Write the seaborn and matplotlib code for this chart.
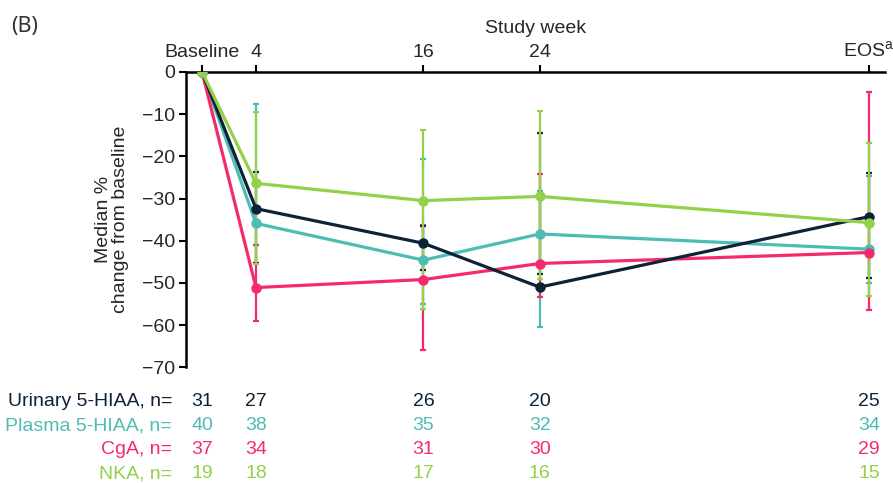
import numpy as np
import pandas as pd
import matplotlib
matplotlib.use("Agg")
import matplotlib.pyplot as plt
import seaborn as sns

# time points and where they sit on the x axis
timepoints = ["Baseline", "4", "16", "24", "EOS$^{\\rm a}$"]
x_pos = [0, 3.8, 15.6, 23.8, 47]

markers_names = ["Urinary 5-HIAA", "Plasma 5-HIAA", "CgA", "NKA"]
colors = ["#0d2236", "#4dbcb5", "#f52a6c", "#93d04b"]

# median % change from baseline
urinary = [0, -32.4, -40.6, -51.0, -34.3]
plasma = [0, -35.9, -44.6, -38.4, -42.0]
cga = [0, -51.1, -49.2, -45.4, -42.8]
nka = [0, -26.4, -30.5, -29.5, -35.7]

# error bar ends (upper, lower); None at baseline
urinary_hi = [None, -23.6, -36.4, -14.4, -24.0]
urinary_lo = [None, -45.2, -47.0, -47.9, -48.9]
plasma_hi = [None, -7.6, -20.6, -28.1, -24.6]
plasma_lo = [None, -41.0, -55.0, -60.4, -50.0]
cga_hi = [None, -41.0, -36.3, -24.1, -4.7]
cga_lo = [None, -59.1, -65.9, -53.3, -56.4]
nka_hi = [None, -9.5, -13.8, -9.2, -16.8]
nka_lo = [None, -45.4, -56.2, -49.1, -53.0]

# number of patients
urinary_n = [31, 27, 26, 20, 25]
plasma_n = [40, 38, 35, 32, 34]
cga_n = [37, 34, 31, 30, 29]
nka_n = [19, 18, 17, 16, 15]

medians = [urinary, plasma, cga, nka]
highs = [urinary_hi, plasma_hi, cga_hi, nka_hi]
lows = [urinary_lo, plasma_lo, cga_lo, nka_lo]
counts = [urinary_n, plasma_n, cga_n, nka_n]

rows = []
for name, vals in zip(markers_names, medians):
    for x, v in zip(x_pos, vals):
        rows.append({"week": x, "change": v, "marker": name})
df = pd.DataFrame(rows)

sns.set_style("white")
plt.rcParams["font.family"] = ["Liberation Sans", "DejaVu Sans"]
plt.rcParams["mathtext.fontset"] = "custom"
plt.rcParams["mathtext.rm"] = "Liberation Sans"
plt.rcParams["axes.unicode_minus"] = True

fs = 14
fig = plt.figure(figsize=(8.93, 4.83), dpi=100)
ax = fig.add_axes([0.2083, 0.2395, 0.991 - 0.2083, 0.8511 - 0.2395])

draw_order = [1, 2, 0, 3]  # teal, pink, navy, green on top

for i in draw_order:
    name = markers_names[i]
    xs = [x for x, h in zip(x_pos, highs[i]) if h is not None]
    hi = np.array([h for h in highs[i] if h is not None])
    lo = np.array([l for l in lows[i] if l is not None])
    # bars drawn between the two ends
    ax.errorbar(xs, (hi + lo) / 2, yerr=(hi - lo) / 2, fmt="none",
                ecolor=colors[i], elinewidth=1.6, capsize=2.3,
                capthick=1.6, zorder=2)
    sns.lineplot(data=df[df["marker"] == name], x="week", y="change",
                 color=colors[i], marker="o", markersize=7.5,
                 markeredgewidth=0, linewidth=2.3, ax=ax, zorder=3,
                 legend=False)

ax.set_xlim(-1.13, 48.13)
ax.set_ylim(-70, 0)
ax.set_yticks(range(-70, 1, 10))
ax.set_xticks(x_pos)
ax.set_xticklabels(timepoints)
ax.xaxis.tick_top()
ax.xaxis.set_label_position("top")
ax.set_xlabel("Study week", fontsize=fs, labelpad=5)
ax.set_ylabel("Median %\nchange from baseline", fontsize=fs, labelpad=9,
              linespacing=1.0)

for side in ["bottom", "right"]:
    ax.spines[side].set_visible(False)
for side in ["top", "left"]:
    ax.spines[side].set_linewidth(1.8)
    ax.spines[side].set_color("black")
ax.tick_params(axis="both", labelsize=fs, length=5, width=1.5,
               color="black", pad=3)
ax.tick_params(axis="x", top=True, bottom=False, direction="out")
ax.tick_params(axis="y", left=True, direction="out")
ax.grid(False)

# n table under the chart
row_y = [-0.1165, -0.1977, -0.2789, -0.3601]
trans = matplotlib.transforms.blended_transform_factory(ax.transData, ax.transAxes)
for i, name in enumerate(markers_names):
    ax.text(-0.02, row_y[i], name + ", n=", transform=ax.transAxes,
            ha="right", va="center", fontsize=fs, color=colors[i],
            clip_on=False)
    for x, n in zip(x_pos, counts[i]):
        ax.text(x, row_y[i], str(n), transform=trans, ha="center",
                va="center", fontsize=fs, color=colors[i], clip_on=False)

fig.text(0.012, 0.946, "(B)", fontsize=15.5, family=["Noto Sans", "DejaVu Sans"],
         color="#333333", ha="left", va="center")

fig.savefig("out.png", dpi=100)
